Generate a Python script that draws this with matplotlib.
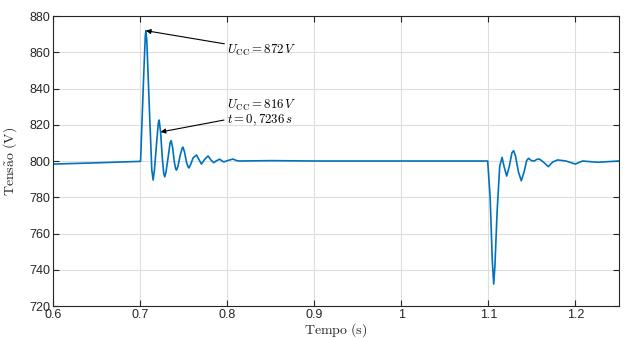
import matplotlib
matplotlib.use("Agg")
import matplotlib.pyplot as plt

# Tensão no barramento CC (tempo em s, tensão em V)
t_pts = [0.600, 0.650, 0.7003, 0.7006, 0.7040, 0.7060, 0.7067, 0.7078,
         0.7110, 0.7135, 0.7150, 0.7165, 0.7190, 0.7210, 0.7219, 0.7236,
         0.7255, 0.7272, 0.7284, 0.7298, 0.7325, 0.7345, 0.7357, 0.7372,
         0.7395, 0.7410, 0.7419, 0.7435, 0.7460, 0.7485, 0.7494, 0.7510,
         0.7535, 0.7555, 0.7563, 0.7580, 0.7610, 0.7648, 0.7680, 0.7705,
         0.7740, 0.7781, 0.7815, 0.7846, 0.7880, 0.7915, 0.7940, 0.7961,
         0.8010, 0.8068, 0.8110, 0.8144, 0.8500, 0.9000, 1.0000, 1.0992,
         1.1020, 1.1045, 1.1061, 1.1075, 1.1100, 1.1130, 1.1157, 1.1180,
         1.1210, 1.1240, 1.1270, 1.1290, 1.1310, 1.1345, 1.1378, 1.1410,
         1.1440, 1.1462, 1.1495, 1.1528, 1.1555, 1.1585, 1.1630, 1.1688,
         1.1740, 1.1795, 1.1891, 1.1998, 1.2081, 1.2253, 1.2500]
v_pts = [798.3, 799.0, 799.8, 800.0, 845.0, 869.0, 871.9, 866.0,
         825.0, 795.0, 789.5, 795.0, 810.0, 821.0, 822.6, 816.0,
         802.0, 793.0, 791.3, 794.0, 803.0, 810.0, 811.2, 808.0,
         799.0, 795.5, 795.0, 797.0, 803.0, 807.3, 807.6, 805.0,
         799.0, 796.4, 796.2, 798.0, 801.8, 803.3, 800.5, 798.3,
         800.8, 802.8, 800.5, 799.1, 800.2, 801.0, 800.1, 799.5,
         800.3, 801.1, 800.2, 800.0, 800.2, 800.0, 800.0, 800.0,
         780.0, 745.0, 732.1, 742.0, 772.0, 797.0, 802.0, 797.0,
         791.7, 797.0, 804.5, 805.7, 803.0, 794.0, 789.1, 794.0,
         800.3, 801.5, 800.2, 800.0, 800.9, 801.1, 799.5, 796.9,
         799.5, 800.6, 800.0, 798.3, 800.0, 799.3, 800.0]

x_ticks = [0.6, 0.7, 0.8, 0.9, 1.0, 1.1, 1.2]
x_labels = ["0.6", "0.7", "0.8", "0.9", "1", "1.1", "1.2"]
y_ticks = [720, 740, 760, 780, 800, 820, 840, 860, 880]

plt.rcParams["mathtext.fontset"] = "cm"
plt.rcParams["font.family"] = ["Liberation Sans", "DejaVu Sans"]

fig = plt.figure(figsize=(6.24, 3.39), dpi=100)
ax = fig.add_axes([0.0849, 0.0973, 0.9071, 0.8555])

ax.plot(t_pts, v_pts, color="#0072BD", linewidth=1.2)

ax.set_xlim(0.6, 1.25)
ax.set_ylim(720, 880)
ax.set_xticks(x_ticks)
ax.set_xticklabels(x_labels)
ax.set_yticks(y_ticks)
ax.grid(True, color="#dedede", linewidth=0.8)
ax.set_axisbelow(True)
ax.tick_params(direction="in", top=True, right=True, length=4, width=0.8,
               labelsize=9, colors="#262626", pad=2)
for s in ax.spines.values():
    s.set_color("#262626")
    s.set_linewidth(0.8)

ax.set_xlabel(r"$\mathrm{Tempo\ (s)}$", fontsize=10, color="#262626", labelpad=0)
ax.set_ylabel(r"$\mathrm{Tens\tilde{a}o\ (V)}$", fontsize=10, color="#262626", labelpad=7)

ax.annotate(r"$U_{\mathrm{CC}} = 872\,V$", xy=(0.7067, 871.9), xytext=(0.8, 861.2),
            fontsize=9.2, va="center", ha="left",
            arrowprops=dict(arrowstyle="-|>", color="black", lw=0.8,
                            mutation_scale=7, shrinkA=0, shrinkB=0))
ax.annotate(r"$U_{\mathrm{CC}} = 816\,V$" "\n" r"$t = 0,7236\,s$",
            xy=(0.7236, 816.0), xytext=(0.7995, 826.5),
            fontsize=9.2, va="center", ha="left", linespacing=1.05,
            arrowprops=dict(arrowstyle="-|>", color="black", lw=0.8,
                            mutation_scale=7, shrinkA=0, shrinkB=0))

fig.savefig("out.png", dpi=100)
